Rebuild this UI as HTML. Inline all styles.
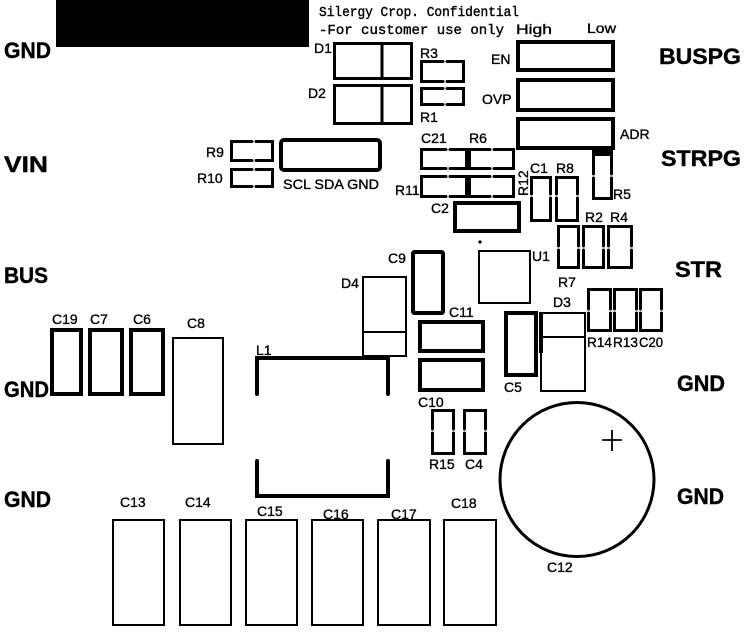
<!DOCTYPE html>
<html><head><meta charset="utf-8"><style>
html,body{margin:0;padding:0;background:#fff;}
svg{display:block;}
.l{font-family:"Liberation Sans",sans-serif;font-size:14px;fill:#000;stroke:#000;stroke-width:0.35;}
.b{font-family:"Liberation Sans",sans-serif;font-weight:bold;font-size:22px;fill:#000;stroke:#000;stroke-width:0.4;}
.m{font-family:"Liberation Mono",monospace;font-size:14px;fill:#000;stroke:#000;stroke-width:0.4;}
.t3{fill:none;stroke:#000;stroke-width:3;stroke-linecap:round;}
.t4{fill:none;stroke:#000;stroke-width:4;stroke-linecap:round;}
.t2{fill:none;stroke:#000;stroke-width:2;}
</style></head><body>
<svg width="748" height="632" viewBox="0 0 748 632" xmlns="http://www.w3.org/2000/svg">
<rect x="0" y="0" width="748" height="632" fill="#fff"/>
<!-- confidential block -->
<rect x="56" y="0" width="253" height="47" fill="#000"/>
<text class="m" x="319" y="16" textLength="200" lengthAdjust="spacingAndGlyphs">Silergy Crop. Confidential</text>
<text class="m" x="319" y="34" textLength="185" lengthAdjust="spacingAndGlyphs">-For customer use only</text>
<text class="l" x="516" y="34" textLength="36" lengthAdjust="spacingAndGlyphs">High</text>
<text class="l" x="587" y="33" textLength="29" lengthAdjust="spacingAndGlyphs">Low</text>

<!-- big labels -->
<text class="b" x="4" y="58" textLength="47" lengthAdjust="spacingAndGlyphs">GND</text>
<text class="b" x="4" y="172" textLength="44" lengthAdjust="spacingAndGlyphs">VIN</text>
<text class="b" x="4" y="283" textLength="44" lengthAdjust="spacingAndGlyphs">BUS</text>
<text class="b" x="4" y="397" textLength="45" lengthAdjust="spacingAndGlyphs">GND</text>
<text class="b" x="4" y="507" textLength="47" lengthAdjust="spacingAndGlyphs">GND</text>
<text class="b" x="659" y="64" textLength="82" lengthAdjust="spacingAndGlyphs">BUSPG</text>
<text class="b" x="661" y="166" textLength="80" lengthAdjust="spacingAndGlyphs">STRPG</text>
<text class="b" x="675" y="277" textLength="47" lengthAdjust="spacingAndGlyphs">STR</text>
<text class="b" x="677" y="391" textLength="48" lengthAdjust="spacingAndGlyphs">GND</text>
<text class="b" x="677" y="504" textLength="47" lengthAdjust="spacingAndGlyphs">GND</text>

<!-- D1 / D2 -->
<rect class="t3" x="334.5" y="43.5" width="77" height="35"/>
<line class="t3" x1="382" y1="43.5" x2="382" y2="78.5"/>
<rect class="t3" x="334.5" y="85.5" width="77" height="38"/>
<line class="t3" x1="382" y1="85.5" x2="382" y2="123.5"/>
<text class="l" x="314" y="53">D1</text>
<text class="l" x="308" y="98">D2</text>

<!-- R3 R1 -->
<path class="t3" d="M443 61.5 H421.5 V81.5 H443 M447 61.5 H463.5 V81.5 H447"/>
<path class="t3" d="M443 88.5 H421.5 V104.5 H443 M447 88.5 H463.5 V104.5 H447"/>
<text class="l" x="420" y="58">R3</text>
<text class="l" x="420" y="122">R1</text>

<!-- R9 R10 -->
<path class="t3" d="M252 141.5 H231.5 V160.5 H252 M256 141.5 H272.5 V160.5 H256"/>
<path class="t3" d="M252 169.5 H231.5 V186.5 H252 M256 169.5 H272.5 V186.5 H256"/>
<text class="l" x="206" y="157">R9</text>
<text class="l" x="197" y="183">R10</text>

<!-- connector -->
<rect class="t4" x="281" y="140" width="99" height="30" rx="3"/>
<text class="l" x="283" y="189" textLength="96" lengthAdjust="spacingAndGlyphs">SCL SDA GND</text>

<!-- C21 R6 R11 R12 -->
<path class="t3" d="M446 149.5 H421.5 V168.5 H446 M450 149.5 H466.5 V168.5 H450"/>
<path class="t3" d="M490 149.5 H469.5 V168.5 H490 M494 149.5 H513.5 V168.5 H494"/>
<path class="t3" d="M446 176.5 H421.5 V196.5 H446 M450 176.5 H466.5 V196.5 H450"/>
<path class="t3" d="M490 176.5 H469.5 V196.5 H490 M494 176.5 H513.5 V196.5 H494"/>
<text class="l" x="421" y="143">C21</text>
<text class="l" x="469" y="143">R6</text>
<text class="l" x="395" y="195">R11</text>
<text class="l" transform="translate(528,196) rotate(-90)">R12</text>

<!-- C2 -->
<rect class="t4" x="455" y="203" width="64" height="28"/>
<text class="l" x="431" y="213">C2</text>

<!-- EN OVP ADR -->
<rect class="t4" x="518" y="42" width="95" height="28"/>
<rect class="t4" x="518" y="80" width="95" height="30"/>
<rect class="t4" x="518" y="119" width="95" height="29"/>
<text class="l" x="491" y="64">EN</text>
<text class="l" x="482" y="104">OVP</text>
<text class="l" x="620" y="139">ADR</text>

<!-- R5 -->
<path class="t3" d="M593.5 174 V154.5 H611.5 V174 M593.5 178 V198.5 H611.5 V178"/>
<line x1="592" y1="151.5" x2="613" y2="151.5" stroke="#000" stroke-width="3"/>
<text class="l" x="613" y="199">R5</text>

<!-- C1 R8 -->
<path class="t3" d="M531.5 194 V177.5 H550.5 V194 M531.5 198 V220.5 H550.5 V198"/>
<path class="t3" d="M556.5 194 V177.5 H577.5 V194 M556.5 198 V220.5 H577.5 V198"/>
<text class="l" x="530" y="173">C1</text>
<text class="l" x="556" y="173">R8</text>

<!-- R7 R2 R4 -->
<path class="t3" d="M558.5 246 V226.5 H578.5 V246 M558.5 250 V267.5 H578.5 V250"/>
<path class="t3" d="M583.5 246 V226.5 H603.5 V246 M583.5 250 V267.5 H603.5 V250"/>
<path class="t3" d="M608.5 246 V226.5 H631.5 V246 M608.5 250 V267.5 H631.5 V250"/>
<text class="l" x="585" y="222">R2</text>
<text class="l" x="610" y="222">R4</text>
<text class="l" x="558" y="287">R7</text>

<!-- U1 -->
<rect class="t2" x="479" y="251" width="51" height="52"/>
<circle cx="480" cy="242" r="1.6" fill="#000"/>
<text class="l" x="532" y="261">U1</text>

<!-- C9 -->
<rect class="t4" x="413" y="252" width="30" height="61" rx="1.5"/>
<text class="l" x="388" y="263">C9</text>

<!-- D4 -->
<rect class="t2" x="363" y="277" width="43" height="79"/>
<line class="t2" x1="363" y1="332" x2="406" y2="332"/>
<text class="l" x="341" y="288">D4</text>

<!-- L1 -->
<path class="t4" d="M257 394 V358 H388 V394"/>
<path class="t4" d="M257 461 V496 H388 V461"/>
<text class="l" x="256" y="355">L1</text>

<!-- C11 C10 -->
<rect class="t4" x="420" y="322" width="63" height="29"/>
<rect class="t4" x="420" y="360" width="63" height="30"/>
<text class="l" x="449" y="317">C11</text>
<text class="l" x="418" y="407">C10</text>

<!-- C5 D3 -->
<rect class="t4" x="506" y="313" width="30" height="62"/>
<rect class="t2" x="541" y="313" width="44" height="78"/>
<line x1="541" y1="312" x2="541" y2="353" stroke="#000" stroke-width="4"/>
<line class="t2" x1="541" y1="337" x2="585" y2="337"/>
<text class="l" x="504" y="392">C5</text>
<text class="l" x="553" y="307">D3</text>

<!-- R14 R13 C20 -->
<path class="t3" d="M588.5 309 V289.5 H610.5 V309 M588.5 313 V330.5 H610.5 V313"/>
<path class="t3" d="M614.5 309 V289.5 H636.5 V309 M614.5 313 V330.5 H636.5 V313"/>
<path class="t3" d="M640.5 309 V289.5 H661.5 V309 M640.5 313 V330.5 H661.5 V313"/>
<text class="l" x="587" y="347" textLength="25" lengthAdjust="spacingAndGlyphs">R14</text>
<text class="l" x="613" y="347" textLength="25" lengthAdjust="spacingAndGlyphs">R13</text>
<text class="l" x="639" y="347" textLength="24" lengthAdjust="spacingAndGlyphs">C20</text>

<!-- R15 C4 -->
<path class="t3" d="M432.5 429 V410.5 H453.5 V429 M432.5 433 V453.5 H453.5 V433"/>
<path class="t3" d="M464.5 429 V410.5 H485.5 V429 M464.5 433 V453.5 H485.5 V433"/>
<text class="l" x="429" y="469">R15</text>
<text class="l" x="465" y="469">C4</text>

<!-- C12 -->
<circle cx="577" cy="479.5" r="77" fill="none" stroke="#000" stroke-width="3"/>
<line x1="602" y1="440" x2="622" y2="440" stroke="#000" stroke-width="1.8"/>
<line x1="612" y1="430" x2="612" y2="451" stroke="#000" stroke-width="1.8"/>
<text class="l" x="547" y="572">C12</text>

<!-- C19 C7 C6 C8 -->
<rect class="t4" x="52" y="330" width="29" height="64"/>
<rect class="t4" x="90" y="330" width="32" height="64"/>
<rect class="t4" x="131" y="330" width="32" height="64"/>
<rect class="t2" x="173" y="338" width="50" height="106"/>
<text class="l" x="52" y="324">C19</text>
<text class="l" x="90" y="324">C7</text>
<text class="l" x="133" y="324">C6</text>
<text class="l" x="187" y="328">C8</text>

<!-- bottom caps -->
<rect class="t2" x="113" y="520" width="51" height="105"/>
<rect class="t2" x="180" y="520" width="51" height="105"/>
<rect class="t2" x="246" y="520" width="51" height="105"/>
<rect class="t2" x="312" y="520" width="51" height="105"/>
<rect class="t2" x="378" y="520" width="52" height="105"/>
<rect class="t2" x="444" y="520" width="52" height="105"/>
<text class="l" x="120" y="507">C13</text>
<text class="l" x="185" y="507">C14</text>
<text class="l" x="257" y="516">C15</text>
<text class="l" x="323" y="519">C16</text>
<text class="l" x="391" y="519">C17</text>
<text class="l" x="451" y="508">C18</text>
</svg>
</body></html>
